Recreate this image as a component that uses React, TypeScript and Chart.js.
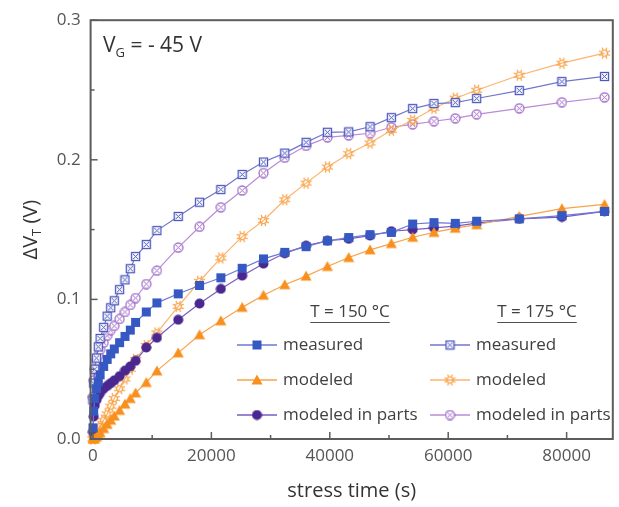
import React, { useEffect, useRef } from 'react';
import { Chart, registerables } from 'chart.js';

Chart.register(...registerables);

// stress time (s)
const TIMES = [0, 120, 300, 600, 900, 1200, 1800, 2400, 3000, 3600, 4500, 5400, 6300, 7200, 9000, 10800, 14400, 18000, 21600, 25200, 28800, 32400, 36000, 39600, 43200, 46800, 50400, 54000, 57600, 61200, 64800, 72000, 79200, 86400];

// T = 150 °C
const MEASURED_150 = [0.008, 0.020, 0.029, 0.036, 0.041, 0.046, 0.052, 0.057, 0.061, 0.0645, 0.069, 0.0735, 0.078, 0.0835, 0.091, 0.0975, 0.104, 0.110, 0.1155, 0.1223, 0.129, 0.1337, 0.1378, 0.142, 0.1443, 0.1464, 0.148, 0.154, 0.155, 0.1545, 0.156, 0.1577, 0.160, 0.163];
const MODELED_150 = [0, 0, 0.0005, 0.0015, 0.003, 0.0045, 0.0075, 0.0105, 0.0135, 0.0165, 0.0205, 0.025, 0.029, 0.033, 0.0405, 0.0488, 0.0617, 0.0747, 0.0847, 0.0943, 0.103, 0.1105, 0.1167, 0.1236, 0.130, 0.1355, 0.140, 0.1445, 0.148, 0.151, 0.1535, 0.1595, 0.165, 0.168];
const PARTS_150 = [0.005, 0.016, 0.024, 0.028, 0.031, 0.033, 0.036, 0.038, 0.040, 0.042, 0.045, 0.049, 0.052, 0.056, 0.0655, 0.0725, 0.0854, 0.097, 0.1075, 0.117, 0.1256, 0.133, 0.1385, 0.142, 0.1434, 0.1457, 0.1488, 0.150, 0.1513, 0.1525, 0.1546, 0.1577, 0.159, 0.163];

// T = 175 °C
const MEASURED_175 = [0.028, 0.040, 0.050, 0.058, 0.066, 0.072, 0.080, 0.088, 0.094, 0.099, 0.107, 0.114, 0.122, 0.1307, 0.1393, 0.1493, 0.1594, 0.1696, 0.1787, 0.1895, 0.1984, 0.2048, 0.2125, 0.2197, 0.220, 0.2237, 0.2302, 0.2367, 0.2403, 0.241, 0.2439, 0.2496, 0.256, 0.2597];
const MODELED_175 = [0, 0.0005, 0.0015, 0.004, 0.0065, 0.009, 0.0135, 0.018, 0.0235, 0.029, 0.036, 0.043, 0.050, 0.057, 0.067, 0.076, 0.095, 0.113, 0.1297, 0.145, 0.1565, 0.1714, 0.1833, 0.1948, 0.2044, 0.212, 0.2211, 0.2283, 0.2369, 0.2441, 0.2498, 0.2606, 0.2692, 0.2764];
const PARTS_175 = [0.030, 0.042, 0.050, 0.056, 0.060, 0.064, 0.069, 0.074, 0.078, 0.081, 0.086, 0.091, 0.096, 0.101, 0.111, 0.1206, 0.1371, 0.152, 0.166, 0.178, 0.1905, 0.2015, 0.210, 0.2161, 0.2175, 0.219, 0.2233, 0.2254, 0.2276, 0.2297, 0.2326, 0.2369, 0.2412, 0.2448];

const X_TICKS = [0, 20000, 40000, 60000, 80000];
const X_TICK_LABELS = ['0', '20000', '40000', '60000', '80000'];
const X_MINOR = [10000, 30000, 50000, 70000];
const Y_TICKS = [0, 0.1, 0.2, 0.3];
const Y_TICK_LABELS = ['0.0', '0.1', '0.2', '0.3'];
const Y_MINOR = [0.05, 0.15, 0.25];

const FONT = "'Open Sans', 'DejaVu Sans', sans-serif";

function makeCanvas(size: number, draw: (c: CanvasRenderingContext2D, m: number) => void) {
  const cv = document.createElement('canvas');
  cv.width = size;
  cv.height = size;
  const c = cv.getContext('2d')!;
  draw(c, size / 2);
  return cv;
}

function buildMarkers() {
  const filledSquare = makeCanvas(11, (c) => {
    c.fillStyle = '#3558c2';
    c.fillRect(1, 1, 9, 9);
  });
  const triangle = makeCanvas(12, (c) => {
    c.fillStyle = '#f7901e';
    c.beginPath();
    c.moveTo(6, 0.5);
    c.lineTo(11.5, 10.5);
    c.lineTo(0.5, 10.5);
    c.closePath();
    c.fill();
  });
  const circle = makeCanvas(11, (c, m) => {
    c.fillStyle = '#4a2890';
    c.beginPath();
    c.arc(m, m, 5, 0, Math.PI * 2);
    c.fill();
  });
  const openSquare = makeCanvas(11, (c) => {
    c.fillStyle = 'rgba(255,255,255,0.9)';
    c.fillRect(1, 1, 9, 9);
    c.strokeStyle = '#4a56bc';
    c.lineWidth = 1.3;
    c.strokeRect(1.5, 1.5, 8, 8);
    c.lineWidth = 1;
    c.beginPath();
    c.moveTo(3, 3); c.lineTo(8, 8);
    c.moveTo(8, 3); c.lineTo(3, 8);
    c.stroke();
  });
  const sun = makeCanvas(13, (c, m) => {
    c.strokeStyle = '#f9a043';
    c.lineWidth = 1.2;
    c.beginPath();
    c.arc(m, m, 3, 0, Math.PI * 2);
    c.stroke();
    c.beginPath();
    for (let i = 0; i < 8; i++) {
      const a = (i * Math.PI) / 4 + Math.PI / 8;
      c.moveTo(m + Math.cos(a) * 3, m + Math.sin(a) * 3);
      c.lineTo(m + Math.cos(a) * 6, m + Math.sin(a) * 6);
    }
    c.stroke();
  });
  const openCircle = makeCanvas(11, (c, m) => {
    c.fillStyle = 'rgba(255,255,255,0.9)';
    c.beginPath();
    c.arc(m, m, 4.5, 0, Math.PI * 2);
    c.fill();
    c.strokeStyle = '#a26fc9';
    c.lineWidth = 1.3;
    c.stroke();
    c.lineWidth = 1;
    c.beginPath();
    c.moveTo(m - 2.5, m - 2.5); c.lineTo(m + 2.5, m + 2.5);
    c.moveTo(m + 2.5, m - 2.5); c.lineTo(m - 2.5, m + 2.5);
    c.stroke();
  });
  return { filledSquare, triangle, circle, openSquare, sun, openCircle };
}

export default function App() {
  const ref = useRef<HTMLCanvasElement>(null);

  useEffect(() => {
    const mk = buildMarkers();
    const series = [
      { label: 'measured', col: 0, row: 0, data: MEASURED_150, line: '#6d78d4', marker: mk.filledSquare },
      { label: 'modeled', col: 0, row: 1, data: MODELED_150, line: '#f9a24a', marker: mk.triangle },
      { label: 'modeled in parts', col: 0, row: 2, data: PARTS_150, line: '#7a5cc4', marker: mk.circle },
      { label: 'measured', col: 1, row: 0, data: MEASURED_175, line: '#7076cc', marker: mk.openSquare },
      { label: 'modeled', col: 1, row: 1, data: MODELED_175, line: '#fbb46e', marker: mk.sun },
      { label: 'modeled in parts', col: 1, row: 2, data: PARTS_175, line: '#b98bd9', marker: mk.openCircle },
    ];

    const decor = {
      id: 'decor',
      afterDraw(chart: any) {
        const ctx: CanvasRenderingContext2D = chart.ctx;
        const { left, right, top, bottom } = chart.chartArea;
        const xs = chart.scales.x;
        const ys = chart.scales.y;
        ctx.save();
        // frame
        ctx.strokeStyle = '#5c5c5c';
        ctx.lineWidth = 2;
        ctx.strokeRect(left, top, right - left, bottom - top);
        // inward ticks
        ctx.lineWidth = 1.5;
        const seg = (x1: number, y1: number, x2: number, y2: number) => {
          ctx.beginPath(); ctx.moveTo(x1, y1); ctx.lineTo(x2, y2); ctx.stroke();
        };
        X_TICKS.forEach((v) => { const p = xs.getPixelForValue(v); seg(p, bottom, p, bottom - 7); });
        X_MINOR.forEach((v) => { const p = xs.getPixelForValue(v); seg(p, bottom, p, bottom - 4); });
        Y_TICKS.forEach((v) => { const p = ys.getPixelForValue(v); seg(left, p, left + 7, p); });
        Y_MINOR.forEach((v) => { const p = ys.getPixelForValue(v); seg(left, p, left + 4, p); });

        // axis titles
        ctx.fillStyle = '#333333';
        ctx.textBaseline = 'middle';
        ctx.font = `20px ${FONT}`;
        ctx.textAlign = 'center';
        ctx.fillText('stress time (s)', (left + right) / 2, 491);

        // y title with subscript
        ctx.save();
        ctx.translate(31, (top + bottom) / 2);
        ctx.rotate(-Math.PI / 2);
        ctx.textAlign = 'left';
        const big = `20px ${FONT}`;
        const small = `13px ${FONT}`;
        ctx.font = big;
        const w1 = ctx.measureText('ΔV').width;
        const w3 = ctx.measureText(' (V)').width;
        ctx.font = small;
        const w2 = ctx.measureText('T').width;
        let x0 = -(w1 + w2 + w3) / 2;
        ctx.font = big; ctx.fillText('ΔV', x0, 0); x0 += w1;
        ctx.font = small; ctx.fillText('T', x0, 6); x0 += w2;
        ctx.font = big; ctx.fillText(' (V)', x0, 0);
        ctx.restore();

        // annotation V_G = - 45 V
        ctx.textAlign = 'left';
        ctx.fillStyle = '#333333';
        const aBig = `21px ${FONT}`;
        const aSmall = `13px ${FONT}`;
        let ax = 103;
        const ay = 46;
        ctx.font = aBig; ctx.fillText('V', ax, ay); ax += ctx.measureText('V').width;
        ctx.font = aSmall; ctx.fillText('G', ax, ay + 7); ax += ctx.measureText('G').width;
        ctx.font = aBig; ctx.fillText(' = - 45 V', ax, ay);

        // legend
        const colX = [237, 430];
        const rowY = [345, 380, 415];
        ctx.font = `17px ${FONT}`;
        ctx.fillStyle = '#404040';
        const headers = [
          { t: 'T = 150 °C', cx: 350 },
          { t: 'T = 175 °C', cx: 537 },
        ];
        headers.forEach((h) => {
          ctx.textAlign = 'center';
          ctx.fillText(h.t, h.cx, 312);
          const w = ctx.measureText(h.t).width;
          ctx.strokeStyle = '#505050';
          ctx.lineWidth = 1;
          seg(h.cx - w / 2, 322.5, h.cx + w / 2, 322.5);
        });
        series.forEach((s) => {
          const x1 = colX[s.col];
          const y = rowY[s.row];
          ctx.strokeStyle = s.line;
          ctx.lineWidth = 1.3;
          seg(x1, y, x1 + 40, y);
          const m = s.marker;
          ctx.drawImage(m, x1 + 20 - m.width / 2, y - m.height / 2);
          ctx.fillStyle = '#404040';
          ctx.textAlign = 'left';
          ctx.fillText(s.label, x1 + 46, y);
        });
        ctx.restore();
      },
    };

    const chart = new Chart(ref.current!, {
      type: 'line',
      data: {
        datasets: series.map((s) => ({
          label: s.label,
          data: TIMES.map((t, i) => ({ x: t, y: s.data[i] })),
          borderColor: s.line,
          borderWidth: 1.2,
          pointStyle: s.marker as any,
          pointRadius: 5,
          tension: 0,
          fill: false,
          clip: false as any,
        })),
      },
      options: {
        responsive: false,
        animation: false,
        devicePixelRatio: 1,
        layout: { padding: { top: 19.5, right: 5.5, left: 0, bottom: 0 } },
        plugins: { legend: { display: false }, tooltip: { enabled: false } },
        scales: {
          x: {
            type: 'linear',
            min: -400,
            max: 87800,
            grid: { display: false, drawTicks: false },
            border: { display: false },
            afterBuildTicks: (scale: any) => { scale.ticks = X_TICKS.map((v) => ({ value: v })); },
            afterFit: (scale: any) => { scale.height = 68; },
            ticks: {
              padding: 7,
              color: '#555555',
              font: { family: FONT, size: 17 },
              maxRotation: 0,
              callback: (_v: any, i: number) => X_TICK_LABELS[i],
            },
          },
          y: {
            type: 'linear',
            min: 0,
            max: 0.3,
            grid: { display: false, drawTicks: false },
            border: { display: false },
            afterBuildTicks: (scale: any) => { scale.ticks = Y_TICKS.map((v) => ({ value: v })); },
            afterFit: (scale: any) => { scale.width = 90.6; },
            ticks: {
              padding: 10,
              color: '#555555',
              font: { family: FONT, size: 17 },
              callback: (_v: any, i: number) => Y_TICK_LABELS[i],
            },
          },
        },
      },
      plugins: [decor],
    });
    return () => chart.destroy();
  }, []);

  return (
    <div style={{ position: 'absolute', left: 0, top: 0, width: 619, height: 507, background: '#fff' }}>
      <canvas ref={ref} width={619} height={507} />
    </div>
  );
}
